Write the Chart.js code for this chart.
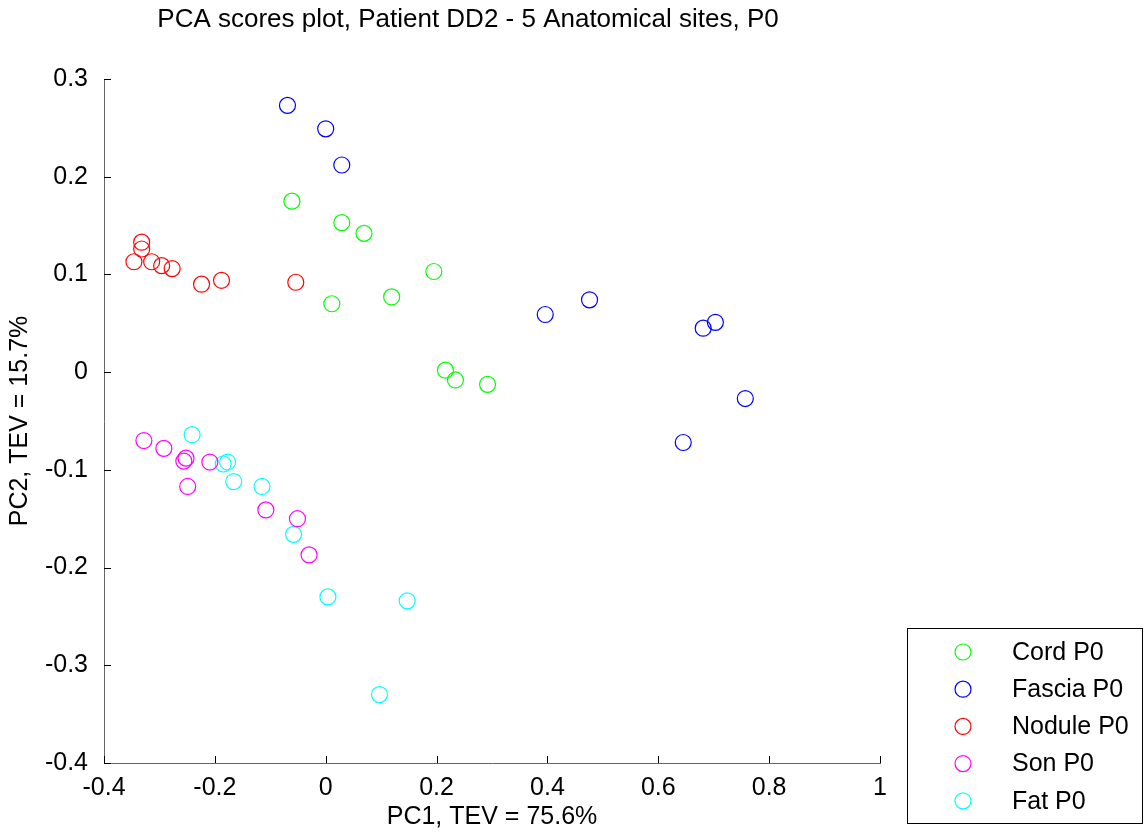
<!DOCTYPE html>
<html lang="en">
<head>
<meta charset="UTF-8">
<title>PCA scores plot</title>
<script src="https://cdn.jsdelivr.net/npm/chart.js"></script>
<style>
  body { margin: 0; background: #fff; }
  #wrap { width: 1145px; height: 832px; }
</style>
</head>
<body>
<div id="wrap"><canvas id="pcaChart" width="1145" height="832"></canvas></div>
<script>
// scores (PC1, PC2)
const cordX = [-0.061, 0.029, 0.069, 0.195, 0.119, 0.011, 0.216, 0.234, 0.292];
const cordY = [0.175, 0.153, 0.142, 0.103, 0.077, 0.070, 0.002, -0.008, -0.0125];
const fasciaX = [-0.069, 0.0, 0.029, 0.396, 0.476, 0.681, 0.703, 0.757, 0.645];
const fasciaY = [0.273, 0.249, 0.212, 0.059, 0.074, 0.045, 0.051, -0.027, -0.072];
const noduleX = [-0.332, -0.332, -0.346, -0.314, -0.296, -0.277, -0.224, -0.188, -0.054];
const noduleY = [0.133, 0.126, 0.113, 0.113, 0.109, 0.106, 0.090, 0.094, 0.092];
const sonX = [-0.328, -0.292, -0.256, -0.252, -0.209, -0.249, -0.108, -0.051, -0.030];
const sonY = [-0.070, -0.078, -0.091, -0.088, -0.092, -0.117, -0.141, -0.150, -0.187];
const fatX = [-0.241, -0.177, -0.185, -0.166, -0.115, -0.058, 0.004, 0.147, 0.097];
const fatY = [-0.064, -0.092, -0.094, -0.112, -0.117, -0.166, -0.230, -0.234, -0.330];

const groupNames = ['Cord P0', 'Fascia P0', 'Nodule P0', 'Son P0', 'Fat P0'];
const groupColors = ['#00ff00', '#0000ff', '#ff0000', '#ff00ff', '#00ffff'];
const groupX = [cordX, fasciaX, noduleX, sonX, fatX];
const groupY = [cordY, fasciaY, noduleY, sonY, fatY];

const xTitle = 'PC1, TEV = 75.6%';
const yTitle = 'PC2, TEV = 15.7%';
const plotTitle = 'PCA scores plot, Patient DD2 - 5 Anatomical sites, P0';

const FONT = 'Liberation Sans, Arial, sans-serif';

const datasets = groupNames.map((name, i) => ({
    label: name,
    data: groupX[i].map((x, j) => ({ x: x, y: groupY[i][j] })),
    borderColor: groupColors[i],
    backgroundColor: 'rgba(0,0,0,0)',
    borderWidth: 1.2,
    pointRadius: 8,
    pointHoverRadius: 8,
    pointStyle: 'circle'
}));

// matlab style: ticks pointing inward, title and legend box drawn by hand
const matlabBits = {
    id: 'matlabBits',
    afterDraw(chart) {
        const ctx = chart.ctx;
        const area = chart.chartArea;
        const xs = chart.scales.x, ys = chart.scales.y;
        ctx.save();
        ctx.strokeStyle = '#000';
        ctx.lineWidth = 1;
        ctx.beginPath();
        xs.ticks.forEach(t => {
            const px = Math.round(xs.getPixelForValue(t.value)) + 0.5;
            ctx.moveTo(px, area.bottom);
            ctx.lineTo(px, area.bottom - 7);
        });
        ys.ticks.forEach(t => {
            const py = Math.round(ys.getPixelForValue(t.value)) + 0.5;
            ctx.moveTo(area.left, py);
            ctx.lineTo(area.left + 7, py);
        });
        ctx.stroke();

        // title
        ctx.fillStyle = '#000';
        ctx.font = '26px ' + FONT;
        ctx.textAlign = 'center';
        ctx.textBaseline = 'middle';
        ctx.fillText(plotTitle, 468, 20);

        // legend box
        ctx.font = '25px ' + FONT;
        const lx = 907.5, ly = 628.5, lw = 235, lh = 195;
        ctx.fillStyle = '#fff';
        ctx.fillRect(lx, ly, lw, lh);
        ctx.strokeStyle = '#000';
        ctx.strokeRect(lx, ly, lw, lh);
        chart.data.datasets.forEach((ds, i) => {
            const cy = 652 + i * 37.2;
            ctx.beginPath();
            ctx.strokeStyle = ds.borderColor;
            ctx.lineWidth = 1.2;
            ctx.arc(963, cy, 8, 0, Math.PI * 2);
            ctx.stroke();
            ctx.fillStyle = '#000';
            ctx.textAlign = 'left';
            ctx.fillText(ds.label, 1012, cy + 1);
        });
        ctx.restore();
    }
};

const fmt = v => String(+Number(v).toFixed(2));

new Chart(document.getElementById('pcaChart'), {
    type: 'scatter',
    data: { datasets: datasets },
    options: {
        responsive: false,
        animation: false,
        events: [],
        layout: { padding: { left: 0, top: 79, right: 265, bottom: 0 } },
        plugins: {
            legend: { display: false },
            tooltip: { enabled: false },
            title: { display: false }
        },
        scales: {
            x: {
                type: 'linear',
                min: -0.4,
                max: 1,
                afterFit: s => { s.height = 69; },
                grid: { display: false },
                border: { display: true, color: '#666', width: 1 },
                ticks: {
                    stepSize: 0.2,
                    padding: 2,
                    color: '#000',
                    font: { family: FONT, size: 25 },
                    callback: fmt
                },
                title: {
                    display: true,
                    text: xTitle,
                    color: '#000',
                    font: { family: FONT, size: 25 },
                    padding: 0
                }
            },
            y: {
                type: 'linear',
                min: -0.4,
                max: 0.3,
                afterFit: s => { s.width = 104; },
                grid: { display: false },
                border: { display: true, color: '#666', width: 1 },
                ticks: {
                    stepSize: 0.1,
                    padding: 8,
                    color: '#000',
                    font: { family: FONT, size: 25 },
                    callback: fmt
                },
                title: {
                    display: true,
                    text: yTitle,
                    color: '#000',
                    font: { family: FONT, size: 25 },
                    padding: 5
                }
            }
        }
    },
    plugins: [matlabBits]
});
</script>
</body>
</html>
